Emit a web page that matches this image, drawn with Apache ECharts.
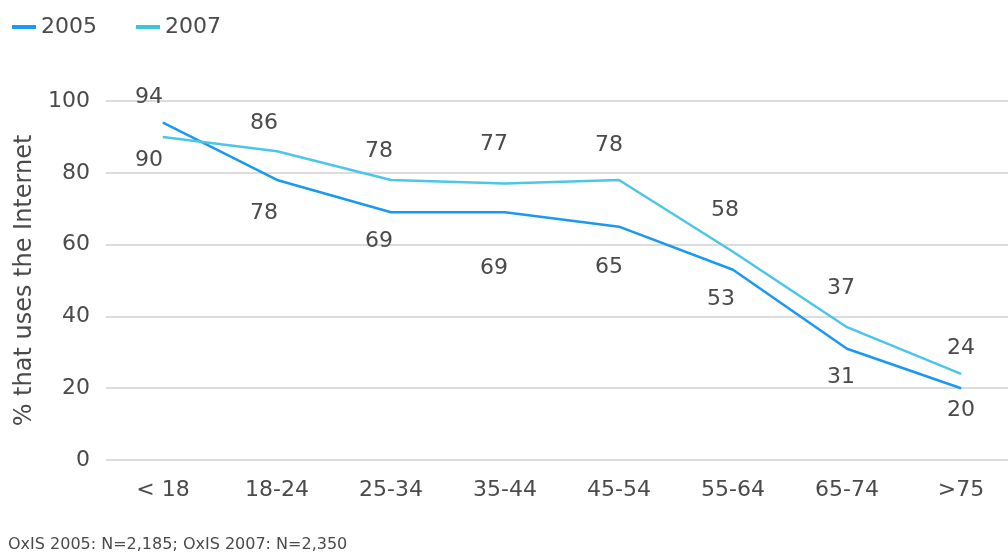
<!DOCTYPE html>
<html>
<head>
<meta charset="utf-8">
<script src="https://cdn.jsdelivr.net/npm/echarts@6/dist/echarts.min.js"></script>
<style>
  html, body { margin: 0; padding: 0; background: #fff; }
  #chart { width: 1008px; height: 555px; }
</style>
</head>
<body>
<div id="chart"></div>
<script>
// Age groups and share of each group using the Internet (%)
var ageGroups = ['< 18', '18-24', '25-34', '35-44', '45-54', '55-64', '65-74', '>75'];
var users2005 = [94, 78, 69, 69, 65, 53, 31, 20];
var users2007 = [90, 86, 78, 77, 78, 58, 37, 24];
var yTicks = [0, 20, 40, 60, 80, 100];

// Label placement nudges (pixels) so the value labels sit clear of the lines
var labelDx2005 = [-14, -13, -12, -11, -10, -12, -6, 0];
var labelDy2005 = [-25, 33, 29, 56, 41, 30, 29, 22];
var labelDx2007 = [-14, -13, -12, -11, -10, -8, -6, 0];
var labelDy2007 = [23, -28, -29, -39, -35, -41, -39, -26];

var FONT = '"DejaVu Sans"';
var TEXT = '#4a4a4a';

function points(values, dx, dy) {
  return values.map(function (v, i) {
    return { value: v, label: { offset: [dx[i], dy[i]] } };
  });
}

var chart = echarts.init(document.getElementById('chart'), null, { renderer: 'canvas' });
chart.setOption({
  animation: false,
  backgroundColor: '#fff',
  textStyle: { fontFamily: FONT },
  legend: {
    left: 7, top: 11,
    itemWidth: 24, itemHeight: 4, itemGap: 39,
    icon: 'rect',
    textStyle: { fontFamily: FONT, fontSize: 22, color: TEXT },
    data: ['2005', '2007']
  },
  graphic: [{
    type: 'text', left: 8, top: 537,
    style: { text: 'OxIS 2005: N=2,185; OxIS 2007: N=2,350', fontFamily: FONT, fontSize: 16, fill: TEXT }
  }],
  // the plot area runs past the right edge so the last band is cut off
  grid: { left: 106, width: 912, top: 101, bottom: 95, containLabel: false, outerBoundsMode: 'none' },
  xAxis: {
    type: 'category',
    data: ageGroups,
    boundaryGap: true,
    axisLine: { show: false },
    axisTick: { show: false },
    axisLabel: { fontFamily: FONT, fontSize: 22, color: TEXT, margin: 19 }
  },
  yAxis: {
    type: 'value',
    min: yTicks[0], max: yTicks[yTicks.length - 1], interval: 20,
    name: '% that uses the Internet',
    nameLocation: 'middle', nameGap: 65, nameRotate: 90,
    nameTextStyle: { fontFamily: FONT, fontSize: 24, color: TEXT },
    axisLine: { show: false },
    axisTick: { show: false },
    axisLabel: { fontFamily: FONT, fontSize: 22, color: TEXT, margin: 16 },
    splitLine: { lineStyle: { color: '#dcdcdc', width: 2 } }
  },
  series: [
    {
      name: '2005', type: 'line',
      data: points(users2005, labelDx2005, labelDy2005),
      symbol: 'circle', symbolSize: 1, showSymbol: true,
      lineStyle: { color: '#1a98f2', width: 2.5 },
      itemStyle: { color: '#1a98f2' },
      label: { show: true, position: 'inside', fontFamily: FONT, fontSize: 22, color: TEXT }
    },
    {
      name: '2007', type: 'line',
      data: points(users2007, labelDx2007, labelDy2007),
      symbol: 'circle', symbolSize: 1, showSymbol: true,
      lineStyle: { color: '#4cc6e6', width: 2.5 },
      itemStyle: { color: '#3fc6d6' },
      label: { show: true, position: 'inside', fontFamily: FONT, fontSize: 22, color: TEXT }
    }
  ]
});
</script>
</body>
</html>
